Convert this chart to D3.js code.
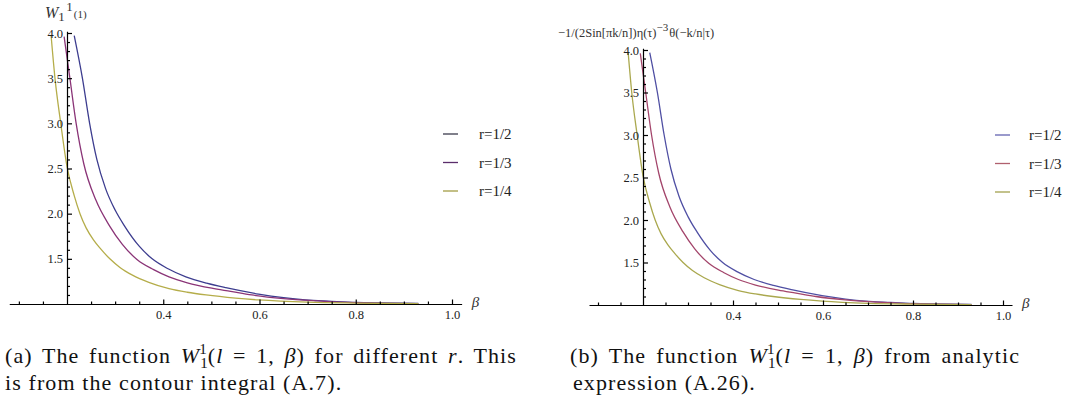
<!DOCTYPE html>
<html>
<head>
<meta charset="utf-8">
<script src="https://cdn.jsdelivr.net/npm/d3@7"></script>
<style>
  body { margin: 0; background: #fff; }
  svg { display: block; }
</style>
</head>
<body>
<script>
// values (both show the same function)
var seriesNames = ["r=1/2", "r=1/3", "r=1/4"];

var betaHalf = [0.215, 0.232, 0.247, 0.262, 0.28, 0.30, 0.32, 0.35, 0.377, 0.41, 0.447, 0.49, 0.53, 0.598, 0.65, 0.695, 0.75, 0.80, 0.85, 0.93];
var wHalf    = [3.97, 3.5, 3.0, 2.6, 2.28, 2.04, 1.86, 1.64, 1.50, 1.39, 1.30, 1.23, 1.18, 1.11, 1.07, 1.045, 1.03, 1.018, 1.012, 1.006];

var betaThird = [0.194, 0.206, 0.219, 0.235, 0.26, 0.289, 0.315, 0.346, 0.38, 0.412, 0.45, 0.501, 0.54, 0.584, 0.65, 0.72, 0.80, 0.93];
var wThird    = [3.96, 3.5, 3.0, 2.55, 2.15, 1.86, 1.66, 1.49, 1.38, 1.30, 1.235, 1.175, 1.14, 1.10, 1.06, 1.035, 1.015, 1.005];

var betaQuarter = [0.167, 0.175, 0.187, 0.20, 0.215, 0.227, 0.24, 0.255, 0.27, 0.289, 0.31, 0.336, 0.37, 0.412, 0.45, 0.489, 0.55, 0.598, 0.70, 0.80, 0.93];
var wQuarter    = [3.97, 3.5, 3.0, 2.52, 2.2, 2.0, 1.84, 1.71, 1.61, 1.50, 1.405, 1.32, 1.24, 1.17, 1.13, 1.10, 1.065, 1.045, 1.02, 1.01, 1.003];

var xTickLabels = [0.4, 0.6, 0.8, 1.0];
var xMinorTicks = [0.1, 0.15, 0.25, 0.3, 0.35, 0.45, 0.5, 0.55, 0.65, 0.7, 0.75, 0.85, 0.9, 0.95];
var yTickLabels = [1.5, 2.0, 2.5, 3.0, 3.5, 4.0];
var yMinorTicks = [1.1, 1.2, 1.3, 1.4, 1.6, 1.7, 1.8, 1.9, 2.1, 2.2, 2.3, 2.4, 2.6, 2.7, 2.8, 2.9, 3.1, 3.2, 3.3, 3.4, 3.6, 3.7, 3.8, 3.9];

var W = 1072, H = 405;

var svg = d3.select("body").append("svg")
    .attr("width", W)
    .attr("height", H);

var serif = "'Liberation Serif', 'Times New Roman', serif";

function drawPanel(o) {
    var g = svg.append("g");

    // x scale: beta 0.2 sits on the y axis, axis line runs 0.08 .. 1.02
    var k = (o.x1 - o.x02) / 0.8;
    var x = d3.scaleLinear().domain([0.08, 1.02])
        .range([o.x02 - 0.12 * k, o.x1 + 0.02 * k]);
    var y = d3.scaleLinear().domain([1, 4]).range([o.y1, o.y4]);

    var clipId = "clip" + o.id;
    g.append("clipPath").attr("id", clipId)
      .append("rect")
        .attr("x", x(0.08)).attr("y", y(4.03))
        .attr("width", x(1.02) - x(0.08))
        .attr("height", y(1) - y(4.03) + 2);

    // curves
    var line = d3.line()
        .x(function(d) { return x(d[0]); })
        .y(function(d) { return y(d[1]); })
        .curve(d3.curveMonotoneX);

    var series = [
        d3.zip(betaHalf, wHalf),
        d3.zip(betaThird, wThird),
        d3.zip(betaQuarter, wQuarter)
    ];

    g.append("g").attr("clip-path", "url(#" + clipId + ")")
      .selectAll("path")
      .data(series)
      .enter().append("path")
        .attr("d", line)
        .attr("fill", "none")
        .attr("stroke", function(d, i) { return o.curveColors[i]; })
        .attr("stroke-width", 1.3);

    // x axis (crosses at w = 1)
    g.append("g")
        .attr("transform", "translate(0," + y(1) + ")")
        .call(d3.axisBottom(x).tickValues(xTickLabels).tickSize(-4.5).tickSizeOuter(0).tickPadding(6)
            .tickFormat(d3.format(".1f")));
    g.append("g")
        .attr("transform", "translate(0," + y(1) + ")")
        .call(d3.axisBottom(x).tickValues(xMinorTicks).tickSize(-2.5).tickSizeOuter(0).tickFormat(""))
        .select(".domain").remove();

    // y axis (at beta = 0.2)
    g.append("g")
        .attr("transform", "translate(" + x(0.2) + ",0)")
        .call(d3.axisLeft(y.copy().domain([1, 4.02]).range([o.y1, o.y4 - 0.02 * (o.y1 - o.y4) / 3]))
            .tickValues(yTickLabels).tickSize(-5).tickSizeOuter(0).tickPadding(4)
            .tickFormat(d3.format(".1f")));
    g.append("g")
        .attr("transform", "translate(" + x(0.2) + ",0)")
        .call(d3.axisLeft(y).tickValues(yMinorTicks).tickSize(-3).tickSizeOuter(0).tickFormat(""))
        .select(".domain").remove();

    g.selectAll(".domain, .tick line")
        .attr("stroke", "#000")
        .attr("stroke-width", 1.2);
    g.selectAll(".tick text")
        .attr("font-family", serif)
        .attr("font-size", "12.5px")
        .attr("fill", "#222");

    // beta label
    g.append("text")
        .attr("x", x(1.02) + 10)
        .attr("y", y(1) + 3)
        .attr("font-family", serif)
        .attr("font-style", "italic")
        .attr("font-size", "15px")
        .attr("fill", "#333")
        .text("\u03b2");

    // legend
    var legend = g.append("g")
        .attr("transform", "translate(" + o.legendX + "," + o.legendY + ")");
    legend.selectAll("line")
        .data(seriesNames)
        .enter().append("line")
        .attr("x1", 0).attr("x2", 15)
        .attr("y1", function(d, i) { return i * 28.5; })
        .attr("y2", function(d, i) { return i * 28.5; })
        .attr("stroke", function(d, i) { return o.legendColors[i]; })
        .attr("stroke-width", 1.3);
    legend.selectAll("text")
        .data(seriesNames)
        .enter().append("text")
        .attr("x", o.legendTextDx)
        .attr("y", function(d, i) { return i * 28.5 + 5; })
        .attr("font-family", serif)
        .attr("font-size", "15px")
        .attr("fill", "#222")
        .text(function(d) { return d; });

    return g;
}

drawPanel({
    id: "a", x02: 67, x1: 452, y1: 304, y4: 33,
    curveColors: ["#3d3d8f", "#8a3477", "#b5ad4a"],
    legendColors: ["#3b3b4d", "#5b2d6b", "#a39d45"],
    legendX: 443, legendY: 134, legendTextDx: 36
});

drawPanel({
    id: "b", x02: 643, x1: 1003, y1: 305, y4: 50,
    curveColors: ["#4f4fa3", "#a3456b", "#aaa84e"],
    legendColors: ["#6363b0", "#b0606e", "#a3a14e"],
    legendX: 995, legendY: 135, legendTextDx: 34
});

// y axis label, left panel: W_1^1(1)
var lab = svg.append("text")
    .attr("x", 45).attr("y", 18)
    .attr("font-family", serif)
    .attr("fill", "#333");
lab.append("tspan").attr("font-style", "italic").attr("font-size", "16px").text("W");
lab.append("tspan").attr("font-size", "13px").attr("dy", 3).text("1");
lab.append("tspan").attr("font-size", "13px").attr("dx", 2).attr("dy", -10).text("1");
lab.append("tspan").attr("font-size", "11px").attr("dx", 1).attr("dy", 7).text("(1)");

// y axis label, right panel
var lab2 = svg.append("text")
    .attr("x", 558).attr("y", 37)
    .attr("font-family", serif)
    .attr("font-size", "12.5px")
    .attr("fill", "#333");
lab2.append("tspan").text("\u22121/(2Sin[\u03c0k/n])\u03b7(\u03c4)");
lab2.append("tspan").attr("font-size", "11px").attr("dy", -6).text("\u22123");
lab2.append("tspan").attr("dy", 6).attr("dx", 1).text("\u03b8(\u2212k/n|\u03c4)");

// captions
function caption(x0, y0, target, parts) {
    var t = svg.append("text")
        .attr("x", x0).attr("y", y0)
        .attr("font-family", serif)
        .attr("font-size", "22px")
        .attr("letter-spacing", "1.1px")
        .attr("fill", "#111");
    parts.forEach(function(p) {
        var s = t.append("tspan").text(p.t);
        if (p.i) s.attr("font-style", "italic");
        if (p.fs) s.attr("font-size", p.fs);
        if (p.dx) s.attr("dx", p.dx);
        if (p.dy) s.attr("dy", p.dy);
    });
    if (target) {
        // justify the first line like the LaTeX caption
        var len = t.node().getBBox().width;
        var spaces = parts.map(function(p) { return p.t; }).join("").split(" ").length - 1;
        t.attr("word-spacing", Math.max(0, (target - len) / spaces));
    }
    return t;
}

function captionLine1(x0, label, tail, target) {
    return caption(x0, 363, target, [
        {t: label + " The function "},
        {t: "W", i: true},
        {t: "1", fs: "15px", dy: 5},
        {t: "1", fs: "15px", dx: -9, dy: -14},
        {t: "(", dy: 9},
        {t: "l", i: true},
        {t: " = 1, "},
        {t: "\u03b2", i: true},
        {t: ")" + tail.before},
        {t: tail.r || "", i: true},
        {t: tail.after || ""}
    ]);
}

captionLine1(5, "(a)", {before: " for different ", r: "r", after: ". This"}, 512);
caption(5, 390, 0, [{t: "is from the contour integral (A.7)."}]);

captionLine1(570, "(b)", {before: " from analytic"}, 450);
caption(573, 390, 0, [{t: "expression (A.26)."}]);
</script>
</body>
</html>
